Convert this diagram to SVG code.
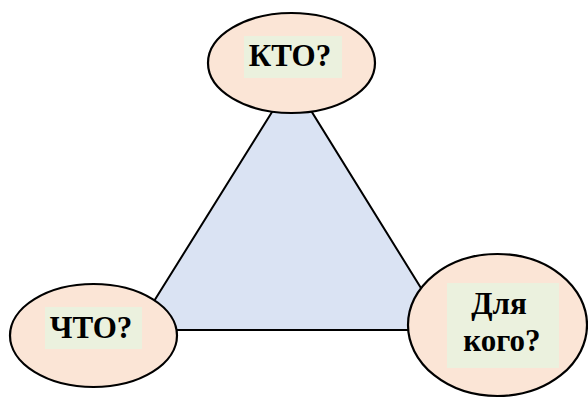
<svg xmlns="http://www.w3.org/2000/svg" width="588" height="398" viewBox="0 0 588 398">
<style>
.node{fill:#FBE5D6;stroke:#000;stroke-width:2.2}
.bg{fill:#EBF1DE}
.lbl{font-family:"Liberation Serif","Times New Roman",serif;font-weight:bold;font-size:31px;fill:#000;text-anchor:middle}
.tri{fill:#DAE3F3;stroke:#000;stroke-width:2;stroke-linejoin:miter}
</style>
<rect width="588" height="398" fill="#fff"/>
<g id="connectors">
<polygon class="tri" points="292,80 136,330 447,330"/>
</g>
<g id="kto">
<ellipse class="node" cx="291.5" cy="63" rx="83.5" ry="50"/>
<rect class="bg" x="244" y="36" width="98" height="42"/>
<text class="lbl" x="290" y="66">КТО?</text>
</g>
<g id="chto">
<ellipse class="node" cx="93.5" cy="335.5" rx="83.5" ry="51.5"/>
<rect class="bg" x="45" y="307" width="97" height="42"/>
<text class="lbl" x="91" y="338">ЧТО?</text>
</g>
<g id="dlya-kogo">
<ellipse class="node" cx="497.5" cy="325" rx="89.5" ry="71"/>
<rect class="bg" x="447" y="283" width="112" height="85"/>
<text class="lbl" x="499" y="314">Для</text>
<text class="lbl" x="502" y="351">кого?</text>
</g>
</svg>
